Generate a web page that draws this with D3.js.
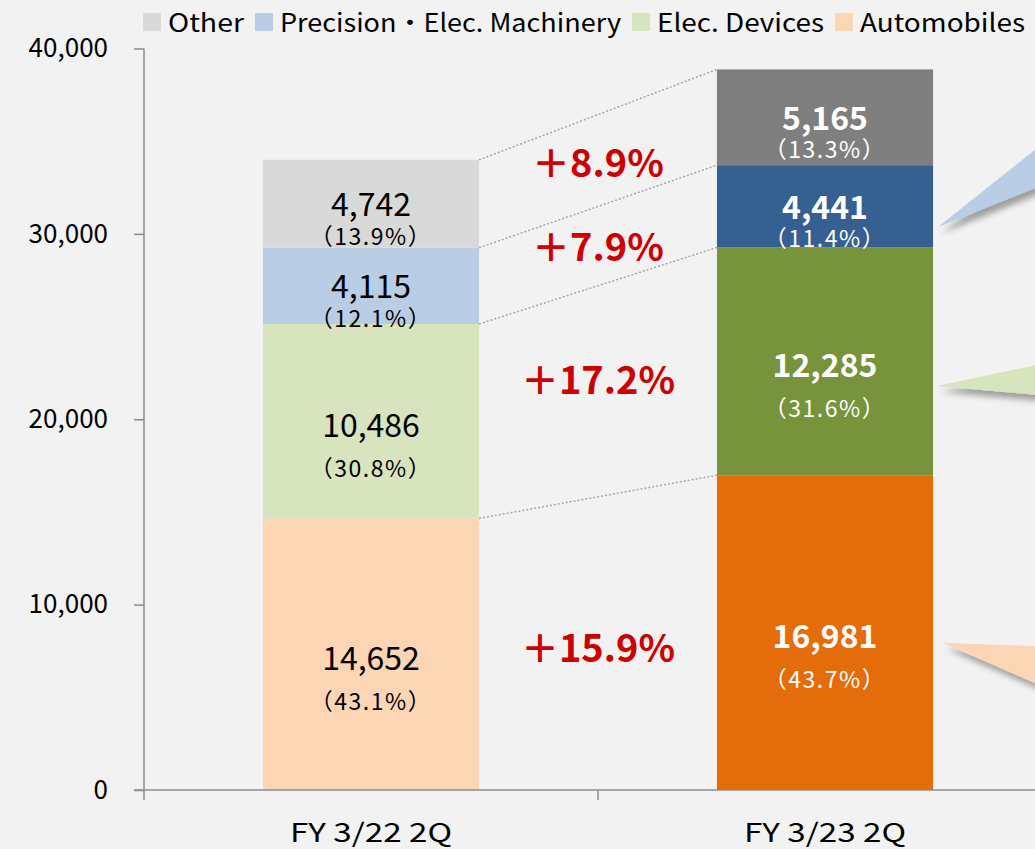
<!DOCTYPE html>
<html>
<head>
<meta charset="utf-8">
<script src="https://cdn.jsdelivr.net/npm/d3@7"></script>
<style>
  html, body { margin: 0; padding: 0; background: #F2F2F2; }
  svg { display: block; }
  text { font-family: "Noto Sans CJK JP", "Noto Sans", sans-serif; }
</style>
</head>
<body>
<svg id="chart" width="1035" height="849"></svg>
<script>
// ---- data ----
const categories = ["FY 3/22 2Q", "FY 3/23 2Q"];
const seriesNames = ["Automobiles", "Elec. Devices", "Precision・Elec. Machinery", "Other"];
const automobiles = [14652, 16981];
const elecDevices = [10486, 12285];
const precision = [4115, 4441];
const other = [4742, 5165];
const shareAutomobiles = ["43.1%", "43.7%"];
const shareElecDevices = ["30.8%", "31.6%"];
const sharePrecision = ["12.1%", "11.4%"];
const shareOther = ["13.9%", "13.3%"];
const growth = ["＋15.9%", "＋17.2%", "＋7.9%", "＋8.9%"]; // by series order
const yTicks = [0, 10000, 20000, 30000, 40000];
const legendOrder = ["Other", "Precision・Elec. Machinery", "Elec. Devices", "Automobiles"];

// ---- styles ----
const colorsLight = {"Automobiles": "#FCD5B5", "Elec. Devices": "#D7E4BD", "Precision・Elec. Machinery": "#B9CDE5", "Other": "#D9D9D9"};
const colorsDark  = {"Automobiles": "#E46C0A", "Elec. Devices": "#77933C", "Precision・Elec. Machinery": "#366092", "Other": "#7F7F7F"};
const legendTextWidth = {"Other": 76, "Precision・Elec. Machinery": 341, "Elec. Devices": 167, "Automobiles": 165};

const valuesBySeries = [automobiles, elecDevices, precision, other];
const sharesBySeries = [shareAutomobiles, shareElecDevices, sharePrecision, shareOther];

const svg = d3.select("#chart");

const x = d3.scaleBand().domain(categories).range([144, 1052]).paddingInner(0.524).paddingOuter(0.262);
const y = d3.scaleLinear().domain([0, 40000]).range([790, 48.5]);

// stack
const table = categories.map((c, i) => {
  const row = {cat: c, idx: i};
  seriesNames.forEach((s, k) => row[s] = valuesBySeries[k][i]);
  return row;
});
const stacked = d3.stack().keys(seriesNames)(table);

// callout triangles with shadow (decorative)
const defs = svg.append("defs");
const f = defs.append("filter").attr("id", "shadow").attr("x", "-20%").attr("y", "-50%").attr("width", "150%").attr("height", "250%");
f.append("feDropShadow").attr("dx", 4).attr("dy", 6).attr("stdDeviation", 3).attr("flood-color", "#000").attr("flood-opacity", 0.35);

const callouts = [
  {s: "Precision・Elec. Machinery", pts: [[938, 227], [1060, 130], [1060, 178]]},
  {s: "Elec. Devices", pts: [[937, 386], [1060, 360], [1060, 397]]},
  {s: "Automobiles", pts: [[943, 643], [1060, 647], [1060, 694]]}
];
svg.append("g").selectAll("path").data(callouts).join("path")
  .attr("d", d => "M" + d.pts.map(p => p.join(",")).join("L") + "Z")
  .attr("fill", d => colorsLight[d.s])
  .attr("filter", "url(#shadow)");

// dotted connectors
const bw = x.bandwidth();
const conn = svg.append("g");
stacked.forEach(layer => {
  const a = layer[0], b = layer[1];
  conn.append("line")
    .attr("x1", x(categories[0]) + bw).attr("y1", y(a[1]))
    .attr("x2", x(categories[1])).attr("y2", y(b[1]))
    .attr("stroke", "#A6A6A6").attr("stroke-width", 1.5).attr("stroke-dasharray", "2,2");
});

// bars
const bars = svg.append("g");
stacked.forEach(layer => {
  bars.selectAll(null).data(layer).join("rect")
    .attr("x", d => x(d.data.cat))
    .attr("y", d => y(d[1]))
    .attr("width", bw)
    .attr("height", d => y(d[0]) - y(d[1]))
    .attr("fill", d => d.data.idx === 0 ? colorsLight[layer.key] : colorsDark[layer.key]);
});

// bar labels
const labels = svg.append("g");
stacked.forEach((layer, k) => {
  layer.forEach((d, i) => {
    const cx = x(d.data.cat) + bw / 2;
    const top = y(d[1]), bot = y(d[0]);
    const h = bot - top;
    const big = h > 150;
    const cy = (top + bot) / 2 + (big ? 1.5 : -1.5);
    const dark = i === 1;
    labels.append("text")
      .attr("x", cx).attr("y", cy)
      .attr("text-anchor", "middle").attr("dominant-baseline", "central")
      .attr("font-size", 32)
      .attr("font-weight", dark ? "bold" : "normal")
      .attr("fill", dark ? "#FFFFFF" : "#000000")
      .text(d3.format(",")(d.data[layer.key]));
    labels.append("text")
      .attr("x", cx).attr("y", cy + (big ? 44 : 32.5))
      .attr("text-anchor", "middle").attr("dominant-baseline", "central")
      .attr("font-size", 23)
      .attr("letter-spacing", 1.5)
      .attr("fill", dark ? "#FFFFFF" : "#000000")
      .text("（" + sharesBySeries[k][i] + "）");
  });
});

// growth labels
const midX = (x(categories[0]) + bw + x(categories[1])) / 2;
const gOffsets = [2, -14, -2, 0];
stacked.forEach((layer, k) => {
  const c0 = (y(layer[0][0]) + y(layer[0][1])) / 2;
  const c1 = (y(layer[1][0]) + y(layer[1][1])) / 2;
  svg.append("text")
    .attr("x", midX).attr("y", (c0 + c1) / 2 + gOffsets[k])
    .attr("text-anchor", "middle").attr("dominant-baseline", "central")
    .attr("font-size", 38).attr("font-weight", "bold").attr("fill", "#CC0000")
    .text(growth[k]);
});

// y axis
const yAxis = svg.append("g").attr("transform", "translate(144,0)")
  .call(d3.axisLeft(y).tickValues(yTicks).tickSize(10).tickPadding(26).tickFormat(d3.format(",")));
yAxis.select(".domain").attr("stroke", "#8C8C8C").attr("stroke-width", 1.5).attr("d", "M0," + y(40000) + "V" + y(0));
yAxis.selectAll(".tick line").attr("stroke", "#8C8C8C").attr("stroke-width", 1.5);
yAxis.selectAll(".tick text").attr("font-size", 26).attr("fill", "#000")
  .attr("font-family", "'Noto Sans CJK JP', sans-serif");

// x axis
const xAxisG = svg.append("g");
xAxisG.append("line").attr("x1", 134).attr("x2", 1035).attr("y1", y(0)).attr("y2", y(0))
  .attr("stroke", "#8C8C8C").attr("stroke-width", 1.5);
const step = x.step();
const boundaries = [144, 144 + step];
xAxisG.selectAll(".xt").data(boundaries).join("line")
  .attr("x1", d => d).attr("x2", d => d).attr("y1", y(0)).attr("y2", y(0) + 10)
  .attr("stroke", "#8C8C8C").attr("stroke-width", 1.5);
xAxisG.selectAll(".xl").data(categories).join("text")
  .attr("x", d => x(d) + bw / 2).attr("y", 830)
  .attr("text-anchor", "middle").attr("dominant-baseline", "central")
  .attr("font-size", 26).attr("fill", "#000")
  .attr("textLength", 162).attr("lengthAdjust", "spacingAndGlyphs")
  .text(d => d);

// legend
const legend = svg.append("g");
let lx = 143;
legendOrder.forEach(name => {
  legend.append("rect").attr("x", lx).attr("y", 13).attr("width", 18).attr("height", 18).attr("fill", colorsLight[name]);
  legend.append("text").attr("x", lx + 25).attr("y", 21)
    .attr("dominant-baseline", "central").attr("font-size", 25).attr("fill", "#000")
    .attr("textLength", legendTextWidth[name]).attr("lengthAdjust", "spacingAndGlyphs")
    .text(name);
  lx = lx + 25 + legendTextWidth[name] + 11;
});
</script>
</body>
</html>
